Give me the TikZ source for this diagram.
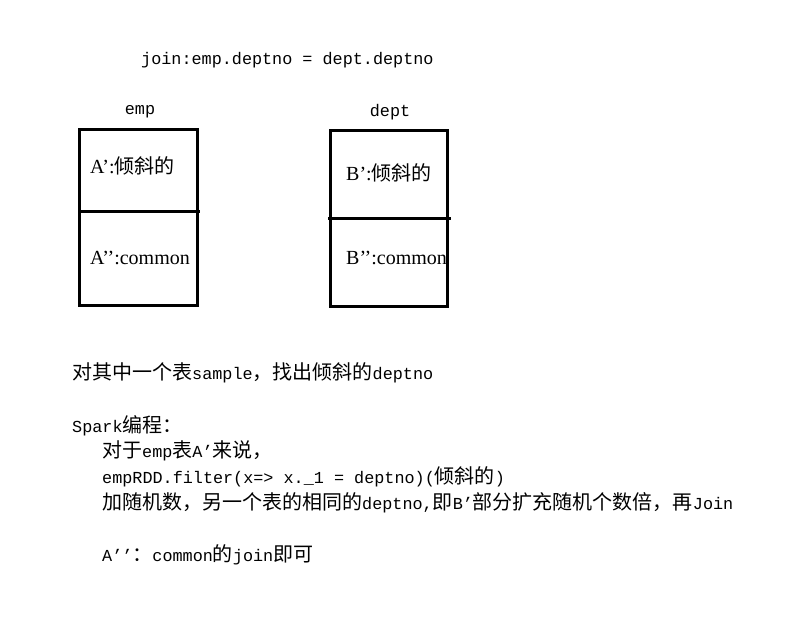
\documentclass[tikz,border=0pt]{standalone}
\usepackage{fontspec}
\newfontfamily\cjkf{Noto Sans CJK SC}
\newfontfamily\monof{Liberation Mono}
\newfontfamily\seriff{Liberation Serif}
\newcommand\zh[1]{{\cjkf\fontsize{20}{20}\selectfont #1}}
\begin{document}
\begin{tikzpicture}[x=1pt,y=-1pt,
  txt/.style={anchor=west,inner sep=0pt,font=\monof\fontsize{16.8}{20}\selectfont},
  boxtxt/.style={anchor=west,inner sep=0pt,font=\seriff\fontsize{20}{20}\selectfont},
  tbl/.style={draw=black,line width=3pt},
  div/.style={draw=black,line width=3pt}]
\useasboundingbox (0,0) rectangle (806,626);
% title
\node[txt] (title) at (141,60) {join:emp.deptno = dept.deptno};
\node[txt,anchor=center] (emp) at (140,112) {emp};
\node[txt,anchor=center] (dept) at (390,112) {dept};
% emp table
\path[tbl] (79,129) rectangle (197,305);
\coordinate (ea) at (79,211);
\coordinate (eb) at (200,211);
\draw[div] (ea) -- (eb);
\node[boxtxt] (a1) at (90,166) {A’:\zh{倾斜的}};
\node[boxtxt] (a2) at (90,258) {A’’:common};
% dept table
\path[tbl] (330,130) rectangle (447,306);
\coordinate (da) at (328,218);
\coordinate (db) at (451,218);
\draw[div] (da) -- (db);
\node[boxtxt] (b1) at (346,173) {B’:\zh{倾斜的}};
\node[boxtxt] (b2) at (346,258) {B’’:common};
% text
\node[txt] (l1) at (72,373) {\zh{对其中一个表}sample\zh{，找出倾斜的}deptno};
\node[txt] (l2) at (72,426) {Spark\zh{编程：}};
\node[txt] (l3) at (102,451) {\zh{对于}emp\zh{表}A’\zh{来说，}};
\node[txt] (l4) at (102,477) {empRDD.filter(x=> x.\_1 = deptno)(\zh{倾斜的})};
\node[txt] (l5) at (102,503) {\zh{加随机数，另一个表的相同的}deptno,\zh{即}B’\zh{部分扩充随机个数倍，再}Join};
\node[txt] (l6) at (102,555) {A’’\zh{：}common\zh{的}join\zh{即可}};
\end{tikzpicture}
\end{document}
